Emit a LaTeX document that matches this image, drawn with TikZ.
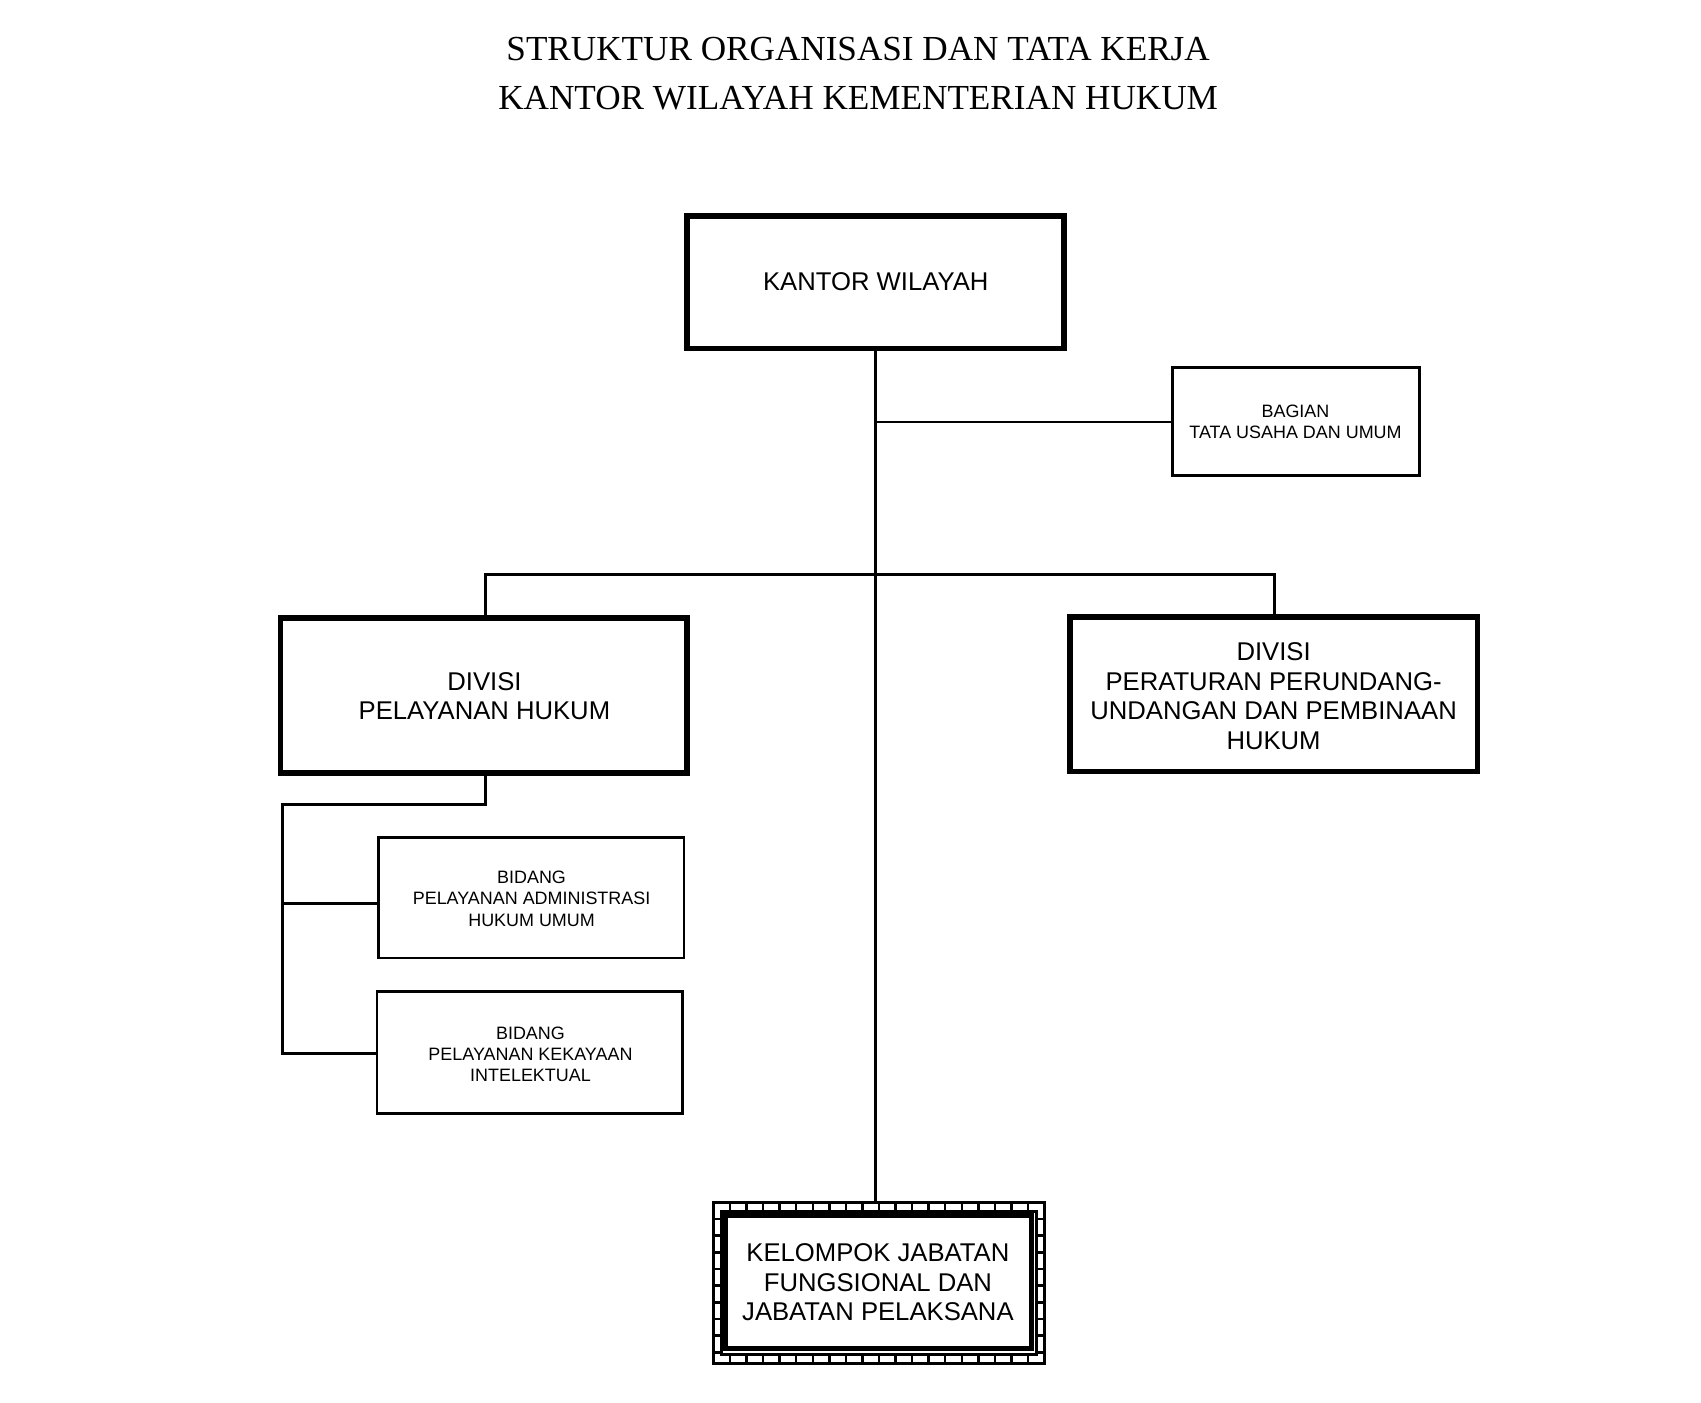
\documentclass[tikz,border=0pt]{standalone}
\usepackage{fontspec}
\setmainfont{Liberation Serif}
\setsansfont{Liberation Sans}
\begin{document}
\begin{tikzpicture}[x=0.01096cm,y=-0.01096cm,
  thick box/.style={draw,line width=1.6pt,inner sep=0pt},
  thin box/.style={draw,line width=0.8pt},
  lbl/.style={font=\sffamily\fontsize{7.3}{8.4}\selectfont,align=center},
  slbl/.style={font=\sffamily\fontsize{5.1}{6}\selectfont,align=center},
  con/.style={line width=0.8pt}]
\useasboundingbox (0,0) rectangle (1552,1280);
\node[font=\fontsize{10}{14}\selectfont,align=center] (title) at (783,67) {STRUKTUR ORGANISASI DAN TATA KERJA\\KANTOR WILAYAH KEMENTERIAN HUKUM};
% boxes
\draw[line width=1.6pt] (627,197) rectangle (971,318);
\node[lbl] (kw) at (799,257) {KANTOR WILAYAH};
\coordinate (kwb) at (799,318);
\draw[thin box] (1070,335) rectangle (1295,434);
\node[slbl] (bag) at (1182,385) {BAGIAN\\TATA USAHA DAN UMUM};
\coordinate (bagl) at (1070,385);
\draw[line width=1.6pt] (256,564) rectangle (627,705);
\node[lbl] (dph) at (442,635) {DIVISI\\PELAYANAN HUKUM};
\draw[line width=1.6pt] (976,563) rectangle (1348,704);
\node[lbl] (dpp) at (1162,635) {DIVISI\\PERATURAN PERUNDANG-\\UNDANGAN DAN PEMBINAAN\\HUKUM};
\draw[thin box] (345,764) rectangle (624,874);
\node[slbl] (b1) at (485,820) {BIDANG\\PELAYANAN ADMINISTRASI\\HUKUM UMUM};
\draw[thin box] (344,905) rectangle (623,1016);
\node[slbl] (b2) at (484,962) {BIDANG\\PELAYANAN KEKAYAAN\\INTELEKTUAL};
% bottom box
\begin{scope}
\clip (651,1097) rectangle (953,1244);
\foreach \i in {0,...,20} \draw[line width=0.7pt] (651+\i*15.1,1097) -- (651+\i*15.1,1244);
\foreach \j in {0,...,10} \draw[line width=0.7pt] (651,1097+\j*15.2) -- (953,1097+\j*15.2);
\end{scope}
\fill[white] (658,1105) rectangle (946,1236);
\draw[line width=1pt] (651,1097) rectangle (953,1244);
\draw[line width=0.8pt] (658,1105) rectangle (946,1236);
\draw[line width=1.4pt] (662,1109) rectangle (941,1230);
\node[lbl] (kjf) at (801,1170) {KELOMPOK JABATAN\\FUNGSIONAL DAN\\JABATAN PELAKSANA};
% connectors
\draw[con] (kwb) -- (799,1097);
\draw[con] (799,385) -- (bagl);
\draw[con] (443,564) -- (443,524) -- (1163,524) -- (1163,563);
\draw[con] (443,705) -- (443,734) -- (258,734) -- (258,961) -- (344,961);
\draw[con] (258,824) -- (345,824);
\end{tikzpicture}
\end{document}
